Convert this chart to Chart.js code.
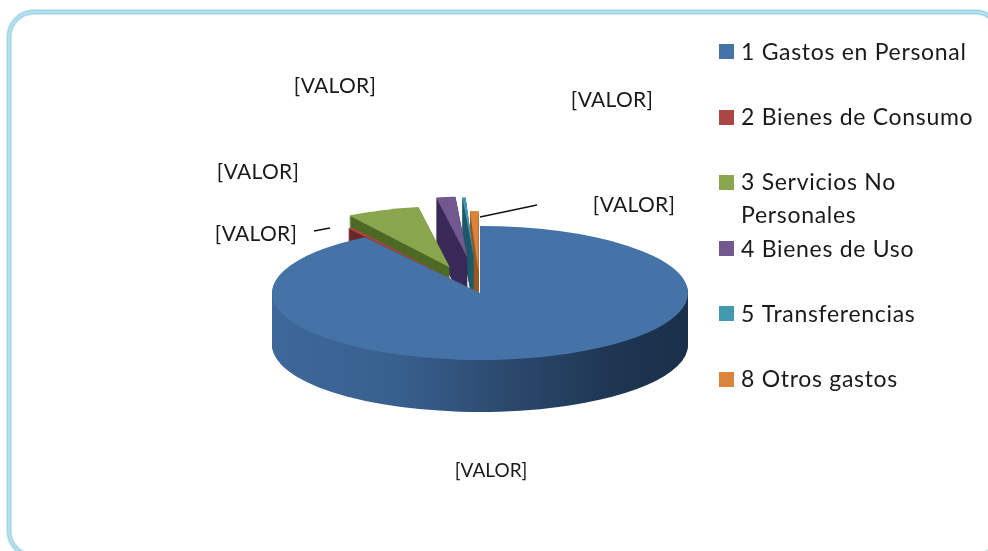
<!DOCTYPE html>
<html>
<head>
<meta charset="utf-8">
<script src="https://cdn.jsdelivr.net/npm/chart.js@4/dist/chart.umd.min.js"></script>
<style>
  body { margin: 0; background: #fff; }
  canvas { display: block; }
</style>
</head>
<body>
<canvas id="pie" width="988" height="551"></canvas>
<script>
// slices, clockwise from 12 o'clock (percent)
const categories = ["1 Gastos en Personal", "2 Bienes de Consumo", "3 Servicios No Personales", "4 Bienes de Uso", "5 Transferencias", "8 Otros gastos"];
const values = [90.7, 0.42, 6.25, 1.64, 0.28, 0.72];
const dataLabel = "[VALOR]";

// colours
const topColors = ["#4572a7", "#aa4643", "#89a54e", "#71588f", "#4198af", "#db843d"];
const wallColors = ["#34587f", "#6a2a29", "#4d6a26", "#3a2a58", "#1f5b6c", "#9a5a24"];
const blueWallStops = [[0, "#3e6899"], [0.3, "#38608f"], [0.55, "#2c4a6f"], [0.8, "#1f3754"], [1, "#1a2f49"]];

// 3d look
const squash = 0.322;
const depth = 52;
const centerY = 293;
const sliceRadius = [208, 190, 190, 190, 190, 190];
const sliceExplode = [0, 50, 85, 110, 108, 65];
const drawOrder = [5, 4, 3, 2, 1, 0];

// legend and label spots (x, y, font size, letter spacing)
const legendBoxY = [44, 110, 175, 241, 306, 372];
const legendLines = [
    [["1 Gastos en Personal", 60]],
    [["2 Bienes de Consumo", 125]],
    [["3 Servicios No", 190], ["Personales", 223]],
    [["4 Bienes de Uso", 257]],
    [["5 Transferencias", 322]],
    [["8 Otros gastos", 387]],
];
const labelSpots = [[491, 471, 19, 0], [256, 234, 21, 0.3], [258, 172, 21, 0.3], [335, 86, 21, 0.3], [612, 100, 21, 0.3], [634, 205, 21, 0.3]];
const leaderLines = [[[314, 231], [330, 228]], [[480, 217], [537, 205]]];

function drawSlice(ctx, arc, i, color) {
    const saved = arc.options;
    const savedRadius = arc.outerRadius;
    arc.options = Object.assign({}, saved, { backgroundColor: color, borderWidth: 0 });
    arc.outerRadius = sliceRadius[i];
    const mid = (arc.startAngle + arc.endAngle) / 2;
    ctx.save();
    ctx.translate(Math.cos(mid) * sliceExplode[i], Math.sin(mid) * sliceExplode[i]);
    arc.draw(ctx);
    ctx.restore();
    arc.options = saved;
    arc.outerRadius = savedRadius;
}

const pie3d = {
    id: "pie3d",
    // replaces the flat drawing: squashed arcs stacked down for the walls
    beforeDatasetsDraw(chart) {
        const ctx = chart.ctx;
        const arcs = chart.getDatasetMeta(0).data;
        const cy = arcs[0].y;
        const blueWall = ctx.createLinearGradient(272, 0, 688, 0);
        blueWallStops.forEach(s => blueWall.addColorStop(s[0], s[1]));

        drawOrder.forEach(i => {
            const wall = i === 0 ? blueWall : wallColors[i];
            for (let d = depth; d >= 0; d--) {
                ctx.save();
                ctx.translate(0, centerY + d);
                ctx.scale(1, squash);
                ctx.translate(0, -cy);
                drawSlice(ctx, arcs[i], i, d === 0 ? topColors[i] : wall);
                ctx.restore();
            }
        });
        return false;
    },
    beforeDraw(chart) {
        const ctx = chart.ctx;
        // pale band with two darker stripes
        const frame = (inset, w, c) => {
            ctx.beginPath();
            ctx.roundRect(9 + inset, 12 + inset, 991 - inset * 2, 544 - inset * 2, 25 - inset);
            ctx.lineWidth = w;
            ctx.strokeStyle = c;
            ctx.stroke();
        };
        frame(0, 6, "#cfeaf2");
        frame(-1.2, 1.4, "#9dd3e4");
        frame(1.2, 1.4, "#9dd3e4");
    },
    afterDraw(chart) {
        const ctx = chart.ctx;
        ctx.save();
        ctx.fillStyle = "#1a1a1a";
        ctx.textBaseline = "alphabetic";
        ctx.textAlign = "left";
        ctx.font = "23px Lato";
        ctx.letterSpacing = "0.7px";
        legendLines.forEach((lines, i) => {
            ctx.save();
            ctx.fillStyle = topColors[i];
            ctx.fillRect(719, legendBoxY[i], 15, 15);
            ctx.restore();
            lines.forEach(l => ctx.fillText(l[0], 741, l[1]));
        });
        ctx.textAlign = "center";
        ctx.textBaseline = "middle";
        labelSpots.forEach(p => {
            ctx.font = p[2] + "px Lato";
            ctx.letterSpacing = p[3] + "px";
            ctx.fillText(dataLabel, p[0], p[1]);
        });
        ctx.strokeStyle = "#111";
        ctx.lineWidth = 1.3;
        leaderLines.forEach(l => {
            ctx.beginPath();
            ctx.moveTo(l[0][0], l[0][1]);
            ctx.lineTo(l[1][0], l[1][1]);
            ctx.stroke();
        });
        ctx.restore();
    },
};

new Chart(document.getElementById("pie"), {
    type: "pie",
    plugins: [pie3d],
    data: {
        labels: categories,
        datasets: [{
            data: values,
            backgroundColor: topColors,
            borderWidth: 0,
            radius: 208,
        }],
    },
    options: {
        responsive: false,
        animation: false,
        radius: 208,
        layout: { padding: { right: 28 } },
        plugins: {
            legend: { display: false },
            tooltip: { enabled: false },
        },
    },
});
</script>
</body>
</html>
